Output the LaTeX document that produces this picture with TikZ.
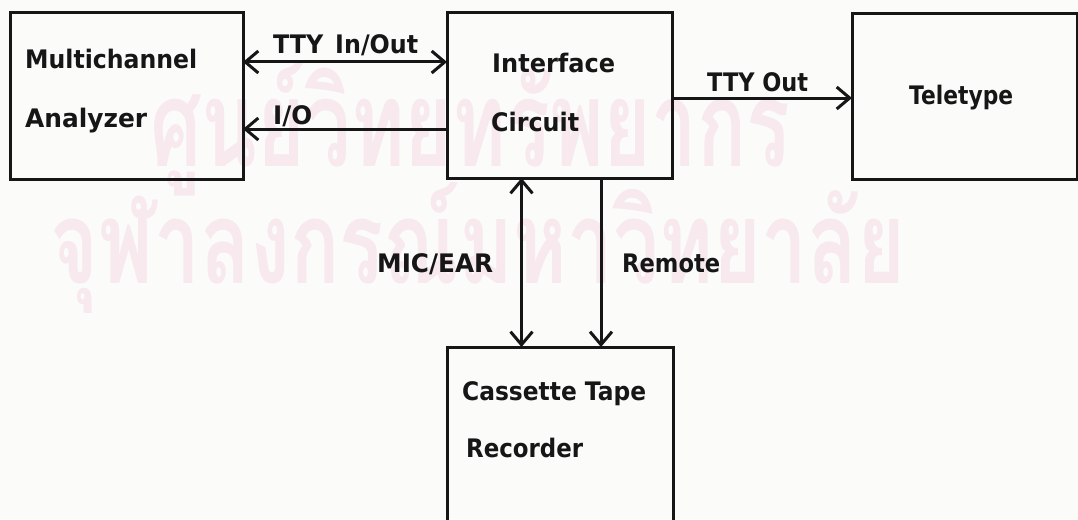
\documentclass[tikz,border=0pt]{standalone}
\usepackage{fontspec}
\setmainfont{DejaVu Sans}
\newfontfamily\lblfont{DejaVu Sans Bold}
\newfontfamily\thaifont[Script=Thai]{Loma}
\usetikzlibrary{arrows.meta}
\definecolor{ink}{RGB}{22,22,22}
\definecolor{paper}{RGB}{251,251,250}
\definecolor{wmark}{RGB}{247,233,238}
\newcommand{\fitw}[2]{\resizebox{#1}{\height}{#2}}
\begin{document}
\begin{tikzpicture}[x=1pt,y=-1pt,
  box/.style={draw=ink,line width=3pt,inner sep=0pt,outer sep=0pt},
  txt/.style={font=\lblfont\fontsize{25.5}{30}\selectfont,text=ink,inner sep=0pt,anchor=base west},
  wm/.style={font=\thaifont\bfseries\fontsize{100}{100}\selectfont,text=wmark,inner sep=0pt,anchor=base west},
  barb/.tip={Straight Barb[length=13pt,width=22pt]},
  sgl/.style={draw=ink,line width=3pt,-barb},
  dbl/.style={draw=ink,line width=3pt,barb-barb}]
\useasboundingbox (0,0) rectangle (1078,519);
\clip (0,0) rectangle (1078,519);
\fill[paper] (0,0) rectangle (1078,519);
% watermark
\node[wm] (w1) at (150,166) {\resizebox{640pt}{1.2\height}{ศูนย์วิทยทรัพยากร}};
\node[wm] (w2) at (50,283) {\resizebox{855pt}{1.15\height}{จุฬาลงกรณ์มหาวิทยาลัย}};
% boxes
\node[box,minimum width=233pt,minimum height=166pt] (mca) at (126.5,96) {};
\node[box,minimum width=225pt,minimum height=165pt] (ifc) at (559.5,95.5) {};
\node[box,minimum width=225pt,minimum height=165pt] (tty) at (964.5,96.5) {};
\node[box,minimum width=226pt,minimum height=190pt] (ctr) at (560,442) {};
% box texts
\node[txt] (mcaA) at (25,68) {\fitw{172pt}{Multichannel}};
\node[txt] (mcaB) at (25,127) {\fitw{122pt}{Analyzer}};
\node[txt] (ifcA) at (492,72) {\fitw{123pt}{Interface}};
\node[txt] (ifcB) at (491,131) {\fitw{88pt}{Circuit}};
\node[txt] (ttyA) at (909,104) {\fitw{104pt}{Teletype}};
\node[txt] (ctrA) at (462,400) {\fitw{184pt}{Cassette Tape}};
\node[txt] (ctrB) at (466,457) {\fitw{117pt}{Recorder}};
% connector labels
\node[txt] (l1) at (273,53) {\fitw{145pt}{TTY\enspace In/Out}};
\node[txt] (l2) at (273,124) {\fitw{39pt}{I/O}};
\node[txt] (l3) at (707,91) {\fitw{101pt}{TTY Out}};
\node[txt] (l4) at (377,272) {\fitw{116pt}{MIC/EAR}};
\node[txt] (l5) at (622,272) {\fitw{98pt}{Remote}};
% connectors
\draw[dbl] ([yshift=34pt]mca.east) -- ([yshift=34pt]mca.east -| ifc.west);
\draw[sgl] ([yshift=-33pt]mca.east -| ifc.west) -- ([yshift=-33pt]mca.east);
\draw[sgl] ([yshift=-2.5pt]ifc.east) -- ([yshift=-2.5pt]ifc.east -| tty.west);
\draw[dbl] ([xshift=-38pt]ifc.south) -- ([xshift=-38pt]ifc.south |- ctr.north);
\draw[sgl] ([xshift=41.5pt]ifc.south) -- ([xshift=41.5pt]ifc.south |- ctr.north);
\end{tikzpicture}
\end{document}
